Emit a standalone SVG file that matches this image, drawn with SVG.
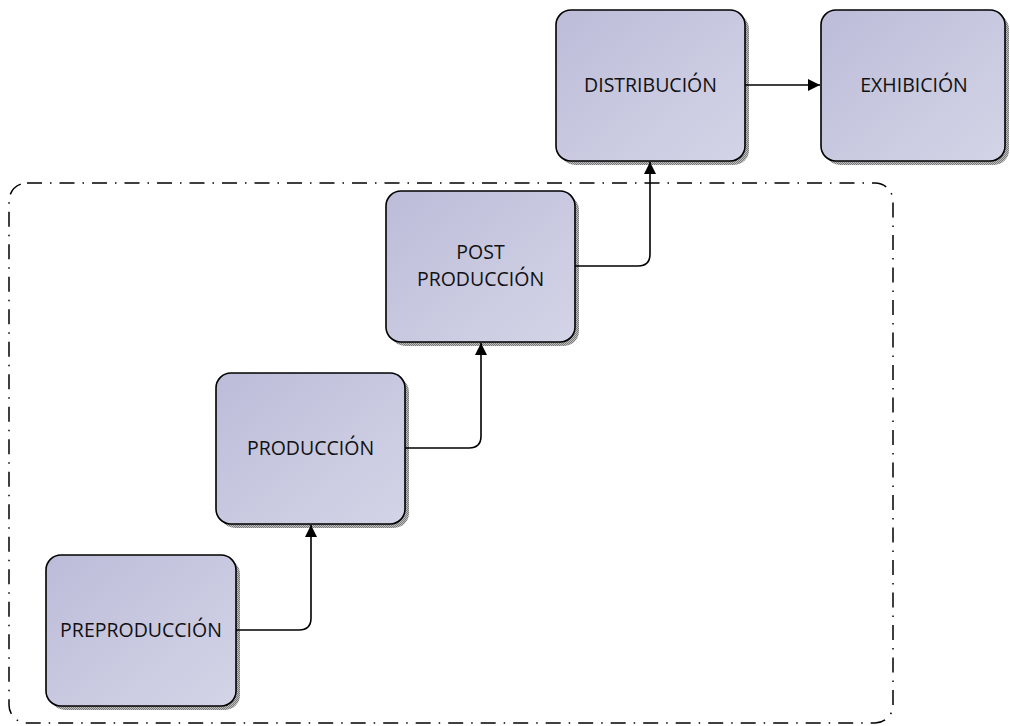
<svg xmlns="http://www.w3.org/2000/svg" width="1010" height="726" viewBox="0 0 1010 726">
<defs>
<linearGradient id="g" x1="0" y1="0" x2="1" y2="1">
<stop offset="0" stop-color="#bcbcd9"/>
<stop offset="1" stop-color="#d4d4e7"/>
</linearGradient>
<pattern id="sh" width="2" height="2" patternUnits="userSpaceOnUse">
<rect width="2" height="2" fill="#bdbdbd"/>
<rect width="1" height="1" fill="#7a7a7a"/>
<rect x="1" y="1" width="1" height="1" fill="#7a7a7a"/>
</pattern>
<marker id="ah" viewBox="0 0 10 10" refX="10" refY="5" markerWidth="12" markerHeight="12" markerUnits="userSpaceOnUse" orient="auto">
<path d="M0,0 L10,5 L0,10 z" fill="#000"/>
</marker>
</defs>
<style>
.sh{fill:url(#sh)}
.bx{fill:url(#g);stroke:#000;stroke-width:1.6}
.t{font-family:"Open Sans","DejaVu Sans",sans-serif;font-size:19.5px;fill:#111;text-anchor:middle}
.c{fill:none;stroke:#000;stroke-width:1.6}
</style>
<rect x="9" y="183" width="884" height="540" rx="18" fill="none" stroke="#000" stroke-width="1.5" stroke-dasharray="15 8 1.5 8"/>
<g id="distribucion">
<rect class="sh" x="560" y="14" width="189" height="151" rx="15"/>
<rect class="bx" x="556" y="10" width="189" height="151" rx="15"/>
<text class="t" x="650.5" y="92">DISTRIBUCIÓN</text>
</g>
<g id="exhibicion">
<rect class="sh" x="825" y="14" width="184" height="151" rx="15"/>
<rect class="bx" x="821" y="10" width="184" height="151" rx="15"/>
<text class="t" x="914" y="92">EXHIBICIÓN</text>
</g>
<g id="postproduccion">
<rect class="sh" x="390" y="195" width="189" height="151" rx="15"/>
<rect class="bx" x="386" y="191" width="189" height="151" rx="15"/>
<text class="t" x="480.5" y="259">POST</text>
<text class="t" x="480.5" y="286">PRODUCCIÓN</text>
</g>
<g id="produccion">
<rect class="sh" x="220" y="377" width="189" height="151" rx="15"/>
<rect class="bx" x="216" y="373" width="189" height="151" rx="15"/>
<text class="t" x="310.5" y="455">PRODUCCIÓN</text>
</g>
<g id="preproduccion">
<rect class="sh" x="50" y="559" width="190" height="151" rx="15"/>
<rect class="bx" x="46" y="555" width="190" height="151" rx="15"/>
<text class="t" x="141" y="637">PREPRODUCCIÓN</text>
</g>
<g id="connectors">
<path class="c" d="M236,630 H299 Q311,630 311,618 V525" marker-end="url(#ah)"/>
<path class="c" d="M405,448 H469 Q481,448 481,436 V343" marker-end="url(#ah)"/>
<path class="c" d="M575,266 H638 Q650,266 650,254 V162" marker-end="url(#ah)"/>
<path class="c" d="M745,85 H820" marker-end="url(#ah)"/>
</g>
</svg>
